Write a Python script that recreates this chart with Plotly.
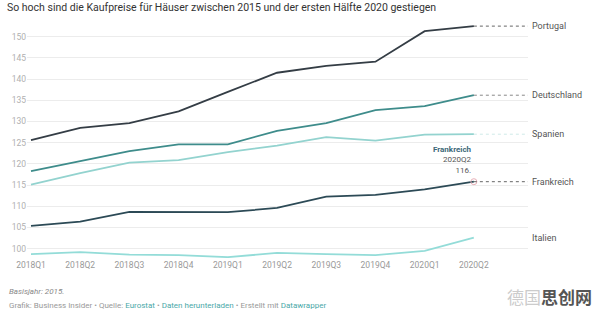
import plotly.graph_objects as go

quarters = ["2018Q1", "2018Q2", "2018Q3", "2018Q4", "2019Q1", "2019Q2",
            "2019Q3", "2019Q4", "2020Q1", "2020Q2"]
portugal = [125.6, 128.5, 129.6, 132.4, 137.0, 141.5, 143.1, 144.1, 151.3, 152.5]
deutschland = [118.3, 120.6, 123.0, 124.6, 124.6, 127.8, 129.6, 132.7, 133.6, 136.2]
spanien = [115.1, 117.8, 120.3, 120.9, 122.8, 124.3, 126.3, 125.5, 126.9, 127.0]
frankreich = [105.4, 106.4, 108.7, 108.6, 108.6, 109.6, 112.3, 112.7, 114.0, 115.8]
italien = [98.7, 99.2, 98.6, 98.5, 98.0, 99.0, 98.7, 98.5, 99.5, 102.6]

series = [
    ("Portugal", portugal, "#343d45"),
    ("Deutschland", deutschland, "#3e8c8b"),
    ("Spanien", spanien, "#93d3cf"),
    ("Frankreich", frankreich, "#2c4a56"),
    ("Italien", italien, "#93dcd8"),
]
yticks = list(range(100, 151, 5))

x = list(range(len(quarters)))
fig = go.Figure()
XEND = 10.1
for name, vals, col in series:
    fig.add_trace(go.Scatter(x=x, y=vals, mode="lines", name=name,
                             line=dict(color=col, width=1.8), showlegend=False,
                             hoverinfo="skip"))
    dotcol = {"Spanien": "#cfeae8", "Italien": "#ffffff", "Deutschland": "#888"}.get(name, "#666")
    fig.add_shape(type="line", xref="x", yref="y", x0=x[-1], x1=XEND,
                  y0=vals[-1], y1=vals[-1],
                  line=dict(color=dotcol, width=1, dash="dot"))
    fig.add_annotation(xref="paper", x=1.0, xanchor="left", xshift=2,
                       yref="y", y=vals[-1], text=name, showarrow=False,
                       font=dict(size=9, color="#555", family="Roboto"))

# tooltip annotation for Frankreich
fig.add_annotation(xref="x", x=x[-1], yref="y", y=frankreich[-1], xanchor="right",
                   yanchor="bottom", yshift=5, align="right", showarrow=False,
                   text="<b><span style='color:#3d6878'>Frankreich</span></b><br>" + quarters[-1] + "<br>" + str(round(frankreich[-1])) + ".",
                   font=dict(size=8, color="#555", family="Roboto"))

fig.add_trace(go.Scatter(x=[x[-1]], y=[frankreich[-1]], mode="markers",
                         marker=dict(size=6, color="rgba(0,0,0,0)",
                                     line=dict(color="#e8b0b8", width=1)),
                         showlegend=False, hoverinfo="skip"))

fig.update_layout(
    width=596, height=319,
    margin=dict(l=25, r=68, t=22, b=61),
    paper_bgcolor="white", plot_bgcolor="white",
    font=dict(family="Roboto", color="#999"),
    title=dict(text="So hoch sind die Kaufpreise für Häuser zwischen 2015 und der ersten Hälfte 2020 gestiegen",
               x=0, xref="paper", xanchor="left", y=0.99, yanchor="top",
               font=dict(size=10.5, color="#333", family="Roboto"), pad=dict(l=-20)),
    xaxis=dict(range=[-0.081, XEND], tickvals=x, ticktext=quarters, showgrid=False,
               zeroline=False, showline=False, ticks="",
               tickfont=dict(size=8.5, color="#999")),
    yaxis=dict(range=[97.8, 153.47], tickvals=yticks, showgrid=True,
               gridcolor="#ececec", gridwidth=1, zeroline=False, showline=False,
               ticks="", ticklabelposition="outside", tickfont=dict(size=8.5, color="#b0b0b0")),
)

fig.add_annotation(xref="paper", yref="paper", x=-0.04, y=-0.14, xanchor="left",
                   yanchor="middle", showarrow=False,
                   text="<i>Basisjahr: 2015.</i>", font=dict(size=8, color="#888", family="Roboto"))
fig.add_annotation(xref="paper", yref="paper", x=-0.04, y=-0.203, xanchor="left",
                   yanchor="middle", showarrow=False,
                   text=("Grafik: Business Insider • Quelle: <span style='color:#4aa8a8'>Eurostat</span> • "
                         "<span style='color:#4aa8a8'>Daten herunterladen</span> • Erstellt mit "
                         "<span style='color:#4aa8a8'>Datawrapper</span>"),
                   font=dict(size=8, color="#999", family="Roboto"))
fig.add_annotation(xref="paper", yref="paper", x=1.131, y=-0.165, xanchor="right",
                   yanchor="middle", showarrow=False,
                   text="<span style='color:#ccc'>德国</span><b>思创网</b>",
                   font=dict(size=17, color="#555", family="Noto Sans CJK SC"))

fig.write_html("out.html")
